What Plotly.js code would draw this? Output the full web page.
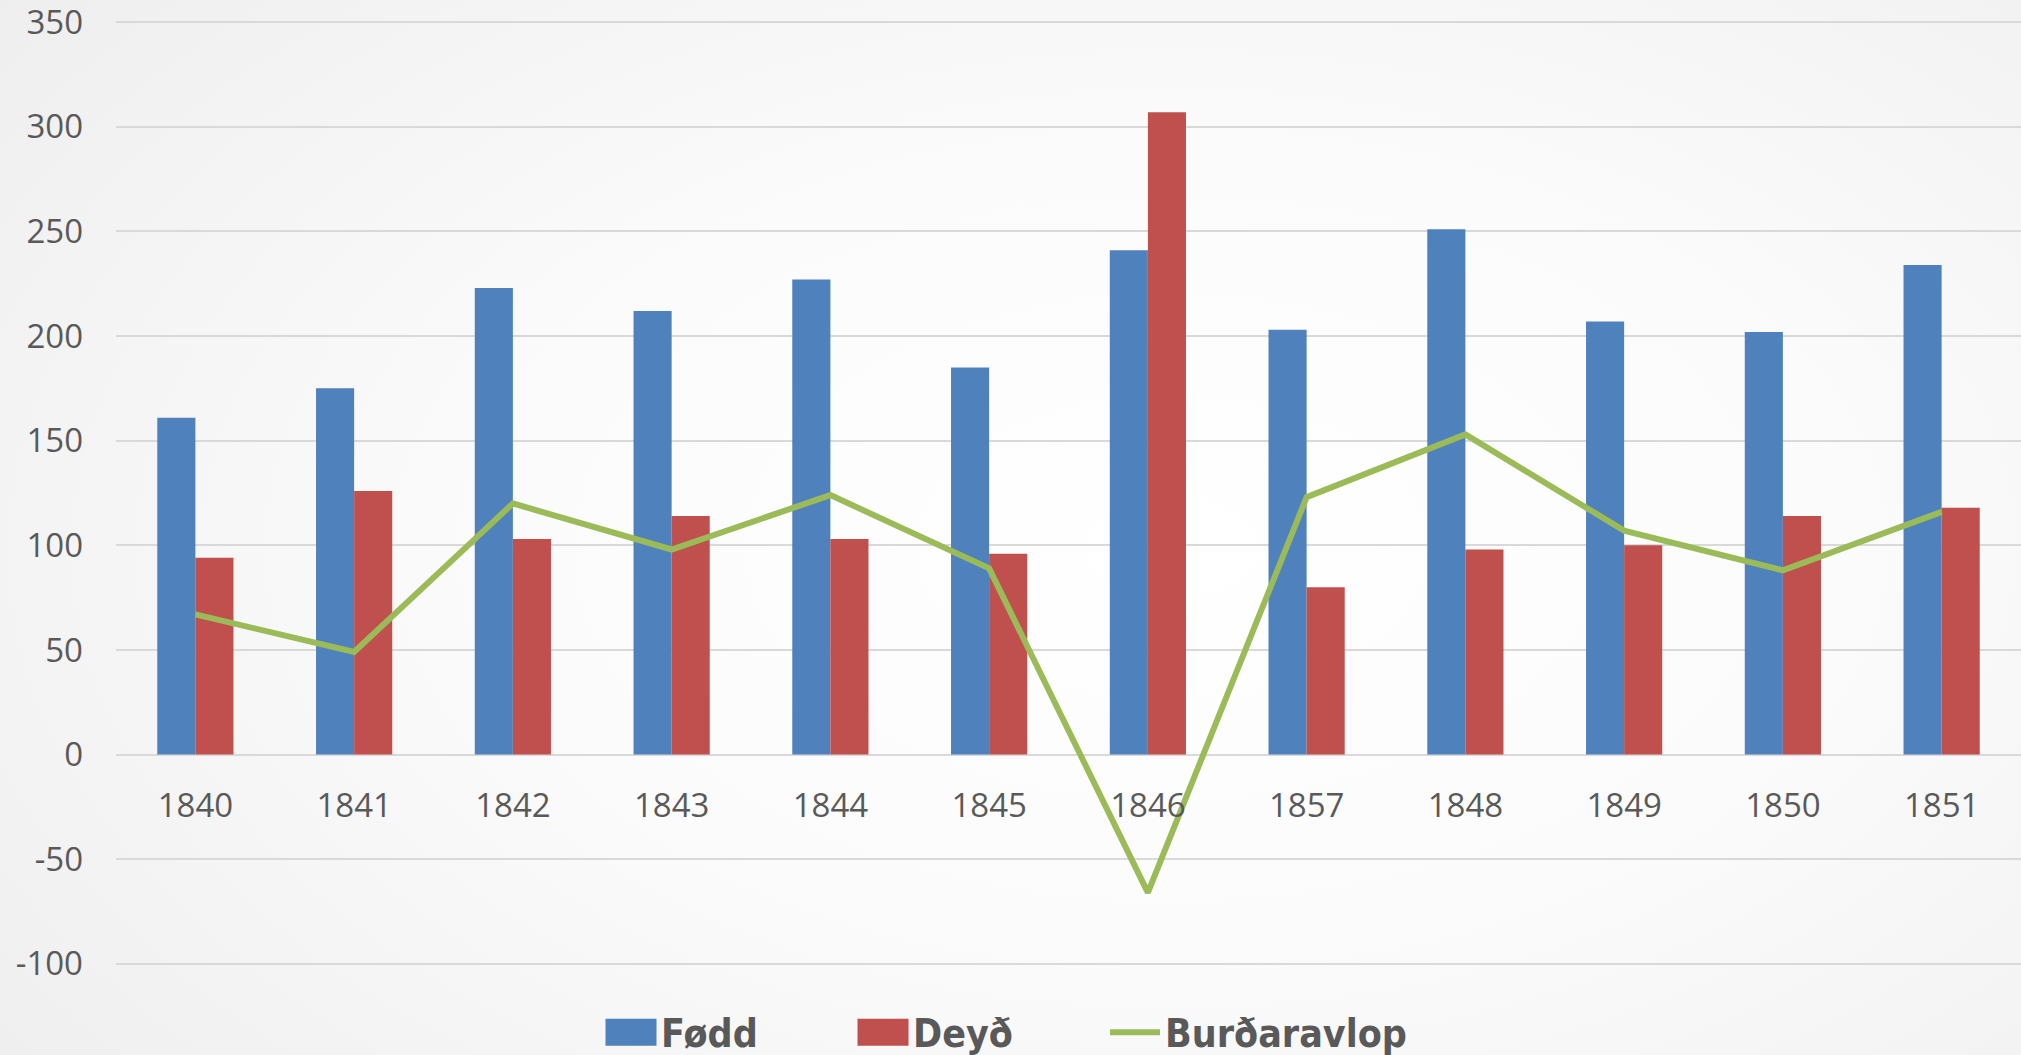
<!DOCTYPE html>
<html>
<head>
<meta charset="utf-8">
<script src="https://cdn.plot.ly/plotly-3.0.1.min.js"></script>
<style>
  html, body { margin: 0; padding: 0; width: 2021px; height: 1055px; overflow: hidden;
    background: radial-gradient(ellipse 75% 85% at 58% 52%, #ffffff 0%, #fbfbfb 45%, #eeeeee 100%); }
  #chart { width: 2021px; height: 1055px; }
</style>
</head>
<body>
<div id="chart"></div>
<script>
const categories = ["1840", "1841", "1842", "1843", "1844", "1845", "1846", "1857", "1848", "1849", "1850", "1851"];
const fodd = [161, 175, 223, 212, 227, 185, 241, 203, 251, 207, 202, 234];
const deyd = [94, 126, 103, 114, 103, 96, 307, 80, 98, 100, 114, 118];
const burdaravlop = [67, 49, 120, 98, 124, 89, -66, 123, 153, 107, 88, 116];
const yTicks = [-100, -50, 0, 50, 100, 150, 200, 250, 300, 350];
const yTickText = ["-100", "-50", "0", "50", "100", "150", "200", "250", "300", "350"];

const textColor = "#595959";
const gridColor = "#d9d9d9";

const traces = [
  { type: "bar", name: "Fødd", x: categories, y: fodd, marker: { color: "#4F81BD" } },
  { type: "bar", name: "Deyð", x: categories, y: deyd, marker: { color: "#C0504D" } },
  { type: "scatter", mode: "lines", name: "Burðaravlop", x: categories, y: burdaravlop,
    line: { color: "#9BBB59", width: 6 } }
];

const yMin = -102, yMax = 352;

const layout = {
  width: 2021, height: 1055,
  paper_bgcolor: "rgba(0,0,0,0)", plot_bgcolor: "rgba(0,0,0,0)",
  margin: { l: 116, r: 0, t: 18, b: 87, autoexpand: false },
  barmode: "group", bargap: 0.52, bargroupgap: 0,
  font: { family: "Open Sans, Noto Sans, sans-serif", color: textColor },
  showlegend: true,
  legend: {
    orientation: "h", x: 0.2546, xanchor: "left", y: -0.034, yanchor: "top",
    font: { family: "Liberation Sans Narrow, DejaVu Sans Condensed, sans-serif", size: 39, color: textColor, weight: "bold" },
    itemwidth: 50, entrywidth: 187, entrywidthmode: "pixels",
    traceorder: "normal", bgcolor: "rgba(0,0,0,0)"
  },
  xaxis: {
    type: "category", anchor: "free", position: (0 - yMin) / (yMax - yMin),
    showgrid: false, showline: false, zeroline: false, ticks: "",
    tickfont: { size: 33, color: textColor },
    ticklabelstandoff: 28
  },
  yaxis: {
    range: [yMin, yMax], tickvals: yTicks, ticktext: yTickText,
    showgrid: true, gridcolor: gridColor, gridwidth: 2,
    zeroline: true, zerolinecolor: gridColor, zerolinewidth: 2,
    showline: false, ticks: "", ticklabeloverflow: "allow",
    tickfont: { size: 33, color: textColor },
    ticklabelstandoff: 32
  }
};

function adjustLegend() {
  const gd = document.getElementById("chart");
  gd.querySelectorAll(".legend [clip-path]").forEach(function (el) {
    el.removeAttribute("clip-path");
  });
  gd.querySelectorAll(".legend .traces").forEach(function (tr) {
    tr.querySelectorAll(".legendpoints path").forEach(function (p) {
      const bb = p.getBBox();
      const cx = bb.x + bb.width / 2;
      const cy = bb.y + bb.height / 2;
      if (p.classList.contains("js-line")) {
        p.setAttribute("d", "M" + (cx - 27) + "," + cy + "h54");
        p.style.strokeWidth = "5.5px";
        p.style.strokeLinecap = "round";
      } else if (bb.width > 0) {
        const hw = 25.5, hh = 13.5;
        p.setAttribute("d", "M" + (cx - hw) + "," + (cy - hh) + "h" + (2 * hw) + "v" + (2 * hh) + "h" + (-2 * hw) + "Z");
      }
    });
  });
}

Plotly.newPlot("chart", traces, layout, { displayModeBar: false, staticPlot: true })
  .then(adjustLegend);
</script>
</body>
</html>
